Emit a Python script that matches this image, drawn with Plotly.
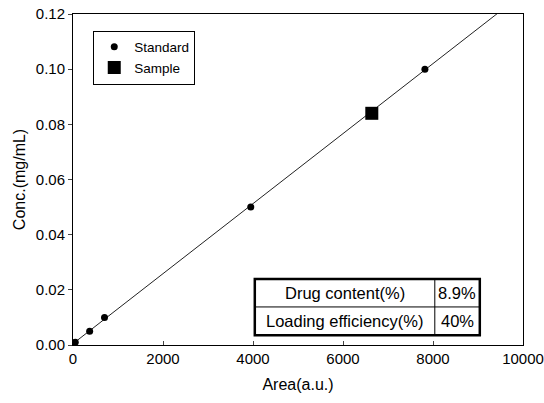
import numpy as np
import plotly.graph_objects as go

std_area = [50, 370, 700, 3950, 7820]
std_conc = [0.001, 0.005, 0.010, 0.050, 0.100]
sample_area = [6640]
sample_conc = [0.084]
table_rows = [["Drug content(%)", "8.9%"], ["Loading efficiency(%)", "40%"]]
x_ticks = [0, 2000, 4000, 6000, 8000, 10000]
x_ticktext = ["0", "2000", "4000", "6000", "8000", "10000"]
y_ticks = [0.00, 0.02, 0.04, 0.06, 0.08, 0.10, 0.12]

slope, intercept = np.polyfit(std_area, std_conc, 1)
fit_x = np.array([0, 10000])
fit_y = slope * fit_x + intercept

font = "Liberation Sans, Arial, sans-serif"
fig = go.Figure()
fig.add_trace(go.Scatter(x=fit_x, y=fit_y, mode="lines", line=dict(color="#222", width=1),
                         showlegend=False, hoverinfo="skip"))
fig.add_trace(go.Scatter(x=std_area, y=std_conc, mode="markers", name="Standard",
                         marker=dict(symbol="circle", size=7, color="black")))
fig.add_trace(go.Scatter(x=sample_area, y=sample_conc, mode="markers", name="Sample",
                         marker=dict(symbol="square", size=13, color="black")))

# table
tx0, tx1, tdiv = 4040, 9040, 8040
ty = [0.0239, 0.0138, 0.0035]
fig.add_shape(type="rect", x0=tx0, x1=tx1, y0=ty[2], y1=ty[0], line=dict(color="black", width=2.5),
              fillcolor="white", layer="above")
fig.add_shape(type="line", x0=tx0, x1=tx1, y0=ty[1], y1=ty[1], line=dict(color="black", width=1))
fig.add_shape(type="line", x0=tdiv, x1=tdiv, y0=ty[2], y1=ty[0], line=dict(color="black", width=1))
for i, (lab, val) in enumerate(table_rows):
    yc = (ty[i] + ty[i + 1]) / 2
    fig.add_annotation(x=(tx0 + tdiv) / 2, y=yc, text=lab, showarrow=False,
                       font=dict(family=font, size=16.5, color="black"))
    fig.add_annotation(x=(tdiv + tx1) / 2, y=yc, text=val, showarrow=False,
                       font=dict(family=font, size=16.5, color="black"))

fig.update_layout(
    width=544, height=403,
    margin=dict(l=73, r=21, t=14, b=58),
    paper_bgcolor="white", plot_bgcolor="white",
    font=dict(family=font, size=14, color="black"),
    legend=dict(x=0.045, y=0.95, xanchor="left", yanchor="top", bordercolor="black", borderwidth=1,
                bgcolor="white", font=dict(size=13.5), itemwidth=30, tracegroupgap=0),
    xaxis=dict(range=[0, 10000], tickvals=x_ticks, ticktext=x_ticktext, ticks="inside", ticklen=4,
               showgrid=False, zeroline=False, showline=True, linecolor="black", mirror=True,
               linewidth=1, automargin=False,
               title=dict(text="Area(a.u.)", font=dict(size=16), standoff=12),
               tickfont=dict(size=15)),
    yaxis=dict(range=[0, 0.12], tickvals=y_ticks, tickformat=".2f", ticks="outside", ticklen=4,
               showgrid=False, zeroline=False, showline=True, linecolor="black", mirror=True,
               linewidth=1, automargin=False,
               title=dict(text="Conc.(mg/mL)", font=dict(size=16), standoff=6),
               tickfont=dict(size=15)),
)
fig.write_html("out.html")
